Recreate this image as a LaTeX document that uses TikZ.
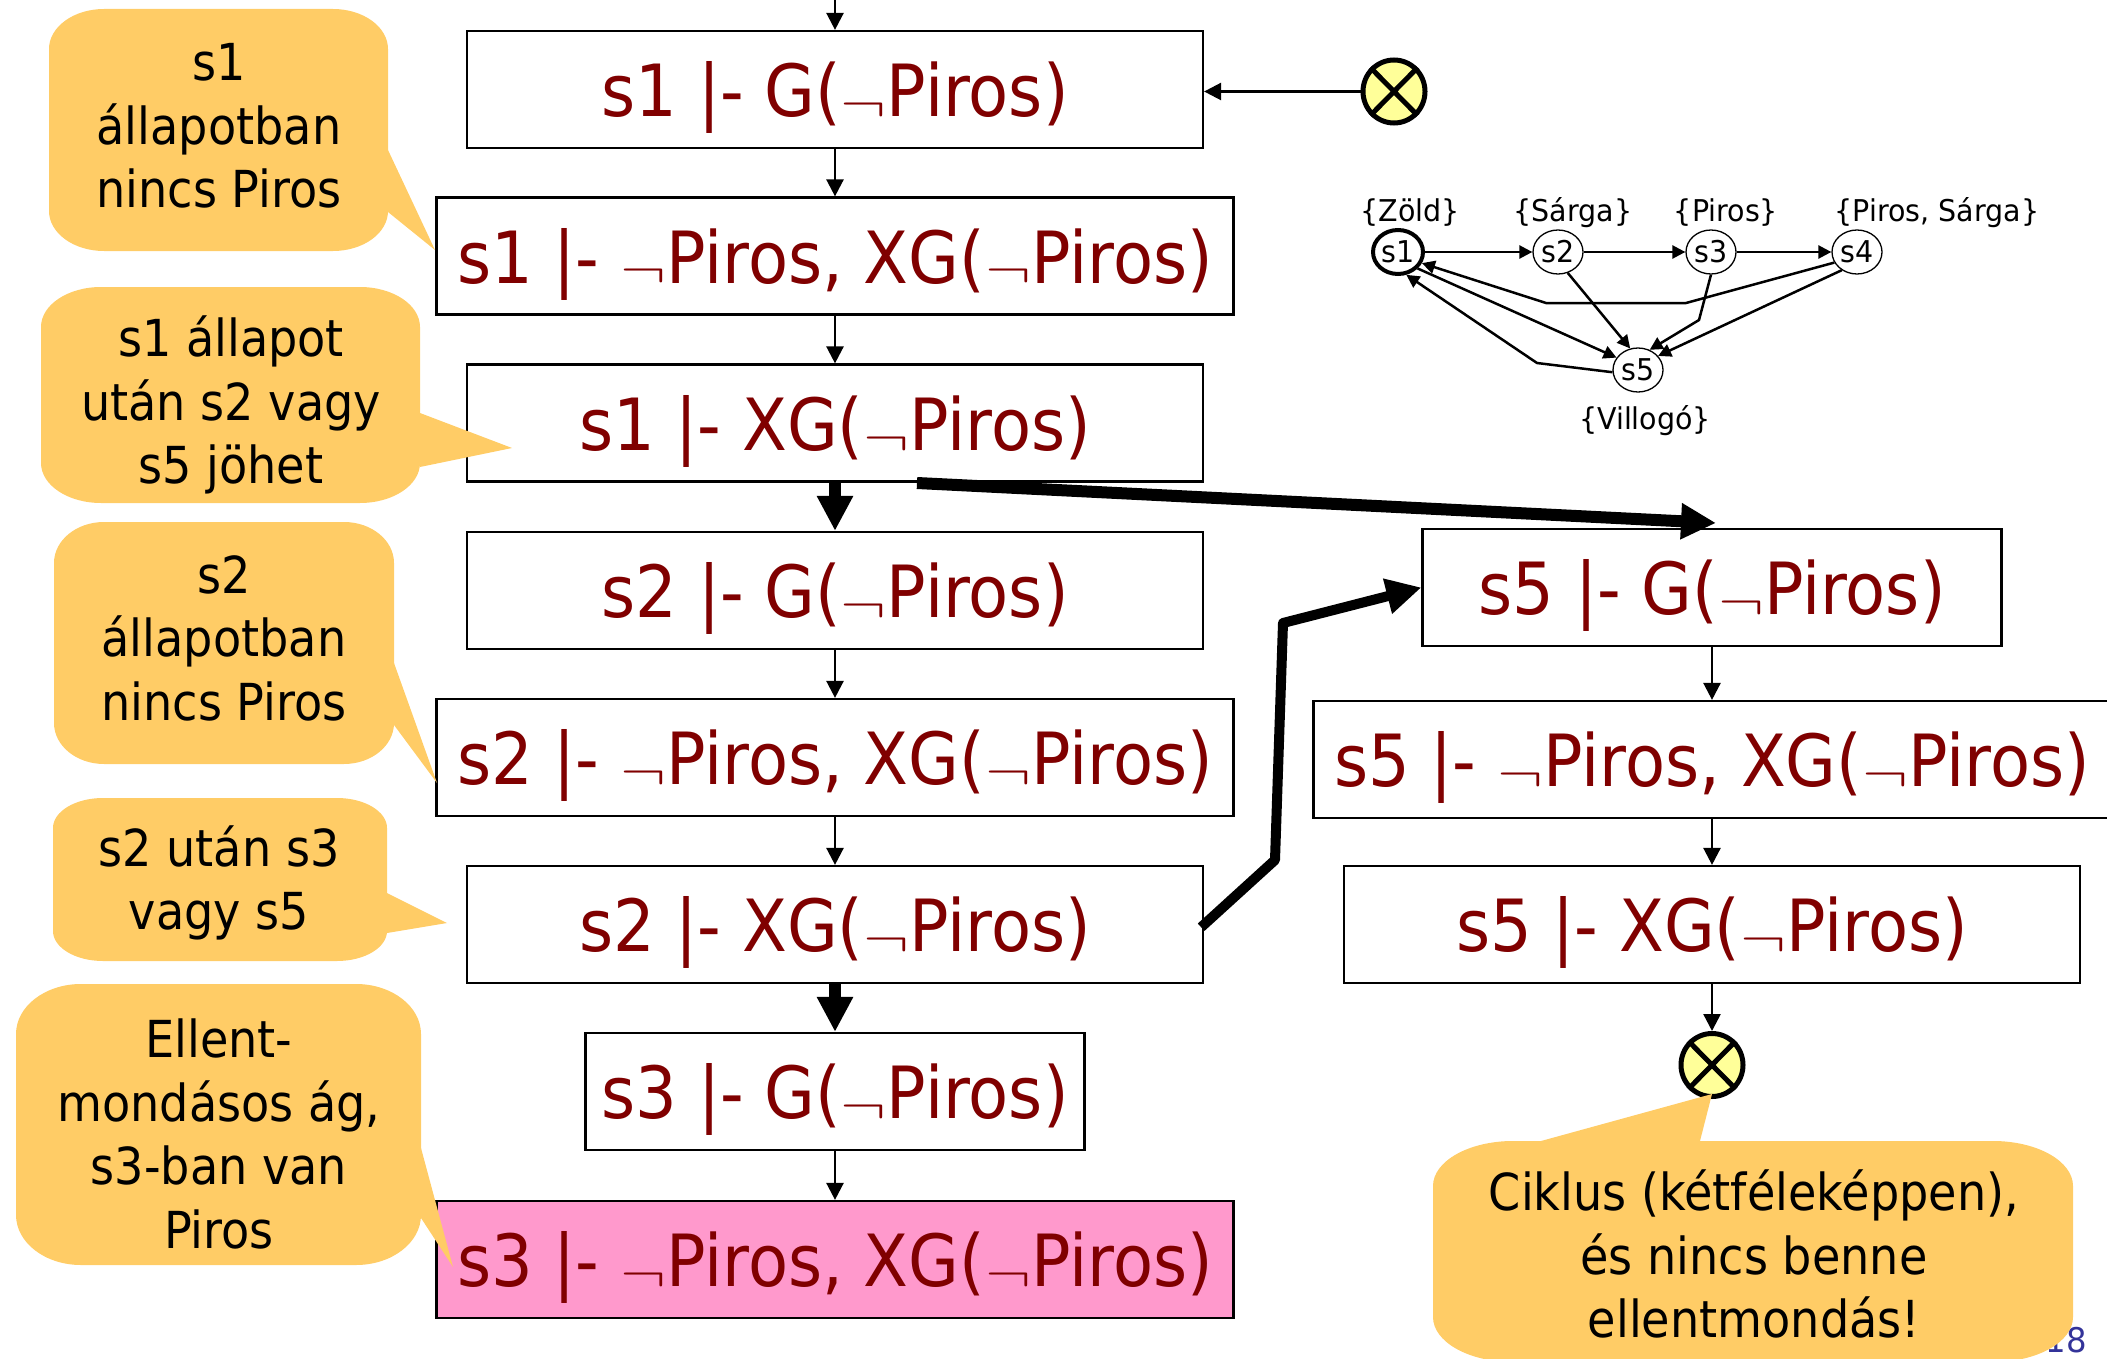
\documentclass[tikz,border=0pt]{standalone}
\usepackage{fontspec}
\usepackage{graphicx}
\setmainfont[FakeStretch=0.91]{DejaVu Sans}
\newfontfamily\bubfont[FakeStretch=0.905]{DejaVu Sans}
\newfontfamily\labfont[FakeStretch=0.95]{DejaVu Sans}
\usetikzlibrary{arrows.meta,shapes.geometric,calc}
\definecolor{bubcol}{HTML}{FFCC66}
\definecolor{darkred}{HTML}{800000}
\definecolor{pinkfill}{HTML}{FF99CC}
\definecolor{xfill}{HTML}{FFFF99}
\definecolor{pagenum}{HTML}{333399}
\newcommand\lognot{\raisebox{-5pt}{\scalebox{6.9}[5.2]{\fontsize{10}{10}\selectfont$\neg$}}}
\newcommand\bub[6]{%
 \fill[bubcol] ({#1+#5},#2) -- ({#3-#5},#2)
  .. controls ({#3-0.4477*#5},#2) and (#3,{#2+0.4477*#6}) .. (#3,{#2+#6})
  -- (#3,{#4-#6})
  .. controls (#3,{#4-0.4477*#6}) and ({#3-0.4477*#5},#4) .. ({#3-#5},#4)
  -- ({#1+#5},#4)
  .. controls ({#1+0.4477*#5},#4) and (#1,{#4-0.4477*#6}) .. (#1,{#4-#6})
  -- (#1,{#2+#6})
  .. controls (#1,{#2+0.4477*#6}) and ({#1+0.4477*#5},#2) .. ({#1+#5},#2) -- cycle;}
\tikzset{
 boxn/.style={draw=black,line width=2.2pt,fill=white,inner sep=0pt,text=darkred,
   text height=54pt,text depth=0pt,minimum height=117pt,font=\fontsize{72}{72}\selectfont},
 bubtext/.style={align=center,text=black,inner sep=0pt,font=\bubfont\fontsize{51}{63.5}\selectfont},
 arr/.style={-{Triangle[length=17pt,width=17pt]},line width=2.5pt,black},
 fatarr/.style={-{Triangle[length=35pt,width=34pt]},line width=12pt,black,line join=round},
 xnode/.style={ellipse,draw=black,fill=xfill,line width=5pt,minimum width=62pt,minimum height=63pt,inner sep=0pt},
 stnode/.style={ellipse,draw=black,fill=white,line width=1.3pt,minimum width=50pt,minimum height=44pt,inner sep=0pt,font=\labfont\fontsize{30}{30}\selectfont},
 stlabel/.style={inner sep=0pt,font=\labfont\fontsize{30}{30}\selectfont},
 starr/.style={-{Triangle[length=13pt,width=13pt]},line width=2.5pt,black},
}
\begin{document}
\begin{tikzpicture}[x=1pt,y=-1pt]
\useasboundingbox (0,0) rectangle (2107,1359);
\clip (0,0) rectangle (2107,1359);
% page number
\node[text=pagenum,inner sep=0pt,font=\labfont\fontsize{34}{34}\selectfont] (pg) at (2066,1340) {18};
% left column
\node[boxn,minimum width=736pt] (b1) at (835,89.5) {s1 |- G(\lognot Piros)};
\node[boxn,minimum width=797pt] (b2) at (835,256) {s1 |- \lognot Piros, XG(\lognot Piros)};
\node[boxn,minimum width=736pt] (b3) at (835,423) {s1 |- XG(\lognot Piros)};
\node[boxn,minimum width=736pt] (b4) at (835,590.5) {s2 |- G(\lognot Piros)};
\node[boxn,minimum width=797pt] (b5) at (835,757.5) {s2 |- \lognot Piros, XG(\lognot Piros)};
\node[boxn,minimum width=736pt] (b6) at (835,924.5) {s2 |- XG(\lognot Piros)};
\node[boxn,minimum width=499pt] (b7) at (835,1091.5) {s3 |- G(\lognot Piros)};
\node[boxn,minimum width=797pt,fill=pinkfill] (b8) at (835,1259.5) {s3 |- \lognot Piros, XG(\lognot Piros)};
% right column
\node[boxn,minimum width=579pt] (r1) at (1712,587.5) {s5 |- G(\lognot Piros)};
\node[boxn,minimum width=797pt] (r2) at (1712,759.5) {s5 |- \lognot Piros, XG(\lognot Piros)};
\node[boxn,minimum width=736pt] (r3) at (1712,924.5) {s5 |- XG(\lognot Piros)};
% x marks
\node[xnode] (x1) at (1394,91.5) {};
\draw[line width=5pt] (x1.north west) -- (x1.south east) (x1.north east) -- (x1.south west);
\node[xnode] (x2) at (1712,1065) {};
\draw[line width=5pt] (x2.north west) -- (x2.south east) (x2.north east) -- (x2.south west);
% connectors
\coordinate (top) at (835,0);
\draw[arr] (top) -- (b1.north);
\draw[arr] (x1.west) -- (b1.east |- x1.west);
\draw[arr] (b1.south) -- (b2.north);
\draw[arr] (b2.south) -- (b3.north);
\draw[fatarr] (b3.south) -- (b4.north);
\draw[arr] (b4.south) -- (b5.north);
\draw[arr] (b5.south) -- (b6.north);
\draw[fatarr] (b6.south) -- (b7.north);
\draw[arr] (b7.south) -- (b8.north);
\draw[arr] (r1.south) -- (r2.north);
\draw[arr] (r2.south) -- (r3.north);
\draw[arr] (r3.south) -- (x2.north);
\coordinate (f1s) at (917,483);
\coordinate (f1e) at (1716,523);
\draw[fatarr] (f1s) -- (f1e);
\coordinate (f2a) at (1275,860);
\coordinate (f2b) at (1283,623);
\draw[-{Triangle[length=35pt,width=34pt]},line width=10pt,line join=round,shorten <=-4pt] (b6.east) -- (f2a) -- (f2b) -- (r1.west);
% bubbles
\bub{49}{9}{388}{251}{55}{40}
\fill[bubcol] (388,150) -- (435,250) -- (388,212) -- cycle;
\node[bubtext] (c1) at (219,126) {s1\\állapotban\\nincs Piros};
\bub{41}{287}{420}{503}{60}{40}
\fill[bubcol] (420,413) -- (512,448) -- (420,467) -- cycle;
\node[bubtext] (c2) at (231,405) {s1 állapot\\után s2 vagy\\s5 jöhet};
\bub{54}{522}{394}{764}{50}{41}
\fill[bubcol] (394,663) -- (437,783) -- (394,725) -- cycle;
\node[bubtext] (c3) at (224,638) {s2\\állapotban\\nincs Piros};
\bub{53}{798}{387}{961}{50}{30}
\fill[bubcol] (387,893) -- (447,923) -- (387,933) -- cycle;
\node[bubtext] (c4) at (219,883) {s2 után s3\\vagy s5};
\bub{16}{984}{421}{1265}{65}{50}
\fill[bubcol] (421,1148) -- (453,1267) -- (421,1218) -- cycle;
\node[bubtext] (c5) at (219,1134) {Ellent-\\mondásos ág,\\s3-ban van\\Piros};
\bub{1433}{1141}{2073}{1362}{80}{45}
\fill[bubcol] (1541,1141) -- (1712,1094) -- (1700,1141) -- cycle;
\node[bubtext] (c6) at (1754,1254) {Ciklus (kétféleképpen),\\és nincs benne\\ellentmondás!};
% small automaton
\node[stnode,line width=4pt] (s1) at (1398,252) {s1};
\node[stnode] (s2) at (1558,252) {s2};
\node[stnode] (s3) at (1711,252) {s3};
\node[stnode] (s4) at (1857,252) {s4};
\node[stnode] (s5) at (1638,370) {s5};
\node[stlabel] (l1) at (1410,213) {\{Zöld\}};
\node[stlabel] (l2) at (1573,213) {\{Sárga\}};
\node[stlabel] (l3) at (1726,213) {\{Piros\}};
\node[stlabel] (l4) at (1937,213) {\{Piros, Sárga\}};
\node[stlabel] (l5) at (1645,421) {\{Villogó\}};
\draw[starr] (s1) -- (s2);
\draw[starr] (s2) -- (s3);
\draw[starr] (s3) -- (s4);
\coordinate (e1) at (1686,303);
\coordinate (e2) at (1546,303);
\draw[starr] (s4.205) -- (e1) -- (e2) -- (s1.-25);
\draw[starr] (s1.-40) -- (s5.150);
\coordinate (e3) at (1537,363);
\draw[starr] (s5.185) -- (e3) -- (s1.-70);
\draw[starr] (s2.-65) -- (s5.110);
\coordinate (e4) at (1699,320);
\draw[starr] (s3.-90) -- (e4) -- (s5.60);
\draw[starr] (s4.-130) -- (s5.35);
\end{tikzpicture}
\end{document}
